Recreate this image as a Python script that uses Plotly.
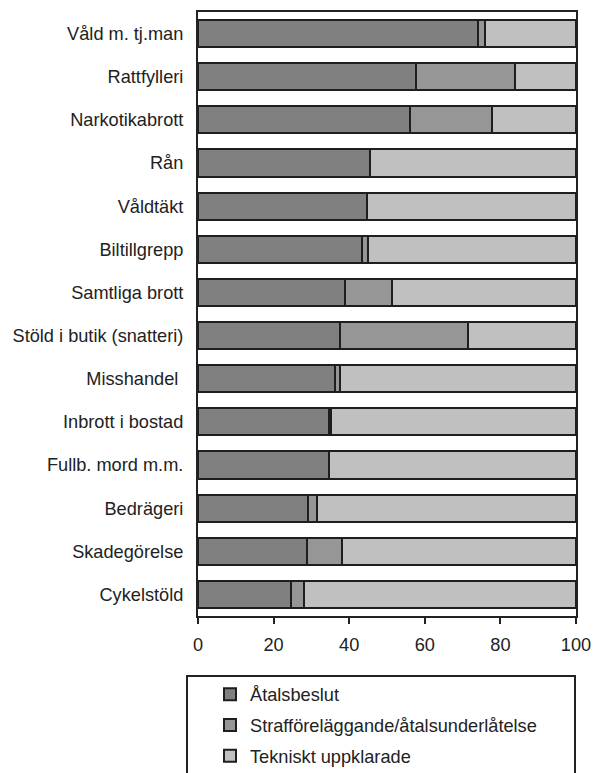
import plotly.graph_objects as go

categories = ["Våld m. tj.man", "Rattfylleri", "Narkotikabrott", "Rån", "Våldtäkt",
              "Biltillgrepp", "Samtliga brott", "Stöld i butik (snatteri)", "Misshandel ",
              "Inbrott i bostad", "Fullb. mord m.m.", "Bedrägeri", "Skadegörelse", "Cykelstöld"]
atalsbeslut = [74.1, 57.8, 56.0, 45.6, 44.6, 43.5, 38.9, 37.5, 36.3, 34.7, 34.7, 29.2, 28.9, 24.5]
strafforelaggande = [1.8, 26.0, 21.9, 0.0, 0.0, 1.4, 12.3, 33.8, 1.2, 0.6, 0.0, 2.4, 9.1, 3.5]
tekniskt = [24.1, 16.2, 22.1, 54.4, 55.4, 55.1, 48.8, 28.7, 62.5, 64.7, 65.3, 68.4, 62.0, 72.0]
series_names = ["Åtalsbeslut", "Strafföreläggande/åtalsunderlåtelse", "Tekniskt uppklarade"]
x_ticks = [0, 20, 40, 60, 80, 100]

colors = ["#808080", "#969696", "#c0c0c0"]
font = "Liberation Sans, Arial, sans-serif"
FS = 18.2

fig = go.Figure()
for i, (name, vals) in enumerate(zip(series_names, [atalsbeslut, strafforelaggande, tekniskt])):
    fig.add_trace(go.Bar(
        y=categories, x=vals, name=name, orientation="h",
        marker=dict(color=colors[i], line=dict(color="#1e1e1e", width=2)),
        legendgroup=name,
    ))

W, H = 593, 773
L, R, T, B = 198, 17, 12, 157
PW, PH = W - L - R, H - T - B

fig.update_layout(
    width=W, height=H,
    margin=dict(l=L, r=R, t=T, b=B, pad=0, autoexpand=False),
    barmode="stack", bargap=0.37,
    plot_bgcolor="white", paper_bgcolor="white",
    font=dict(family=font, size=FS, color="#222222"),
    xaxis=dict(range=[0, 100], tickvals=x_ticks, ticks="outside", ticklen=6,
               tickcolor="#222222", tickwidth=1.5, ticklabelstandoff=5,
               showline=True, linecolor="#222222", linewidth=2, mirror=True,
               showgrid=False, zeroline=False, fixedrange=True,
               tickfont=dict(size=FS)),
    yaxis=dict(autorange="reversed", showline=True, linecolor="#222222", linewidth=2,
               mirror=True, showgrid=False, ticks="", ticklabelstandoff=9,
               tickfont=dict(size=FS)),
    showlegend=True,
    legend=dict(
        x=(210 - L) / PW, xref="paper", y=1 - 676 / H, yref="container",
        xanchor="left", yanchor="top",
        traceorder="grouped", tracegroupgap=4,
        bgcolor="rgba(0,0,0,0)", borderwidth=0,
        font=dict(size=FS, color="#222222"),
        itemwidth=30,
    ),
)

# legend frame (extends past the bottom edge as in the reference)
fig.add_shape(type="rect", xref="paper", yref="paper",
              x0=(187 - L) / PW, x1=(575 - L) / PW,
              y0=-(800 - T - PH) / PH,
              y1=-(676 - (H - B)) / PH,
              line=dict(color="#222222", width=2), fillcolor="rgba(0,0,0,0)")

fig.write_html("out.html", config={"displayModeBar": False},
               post_script="document.body.style.margin='0';document.body.style.overflow='hidden';")
